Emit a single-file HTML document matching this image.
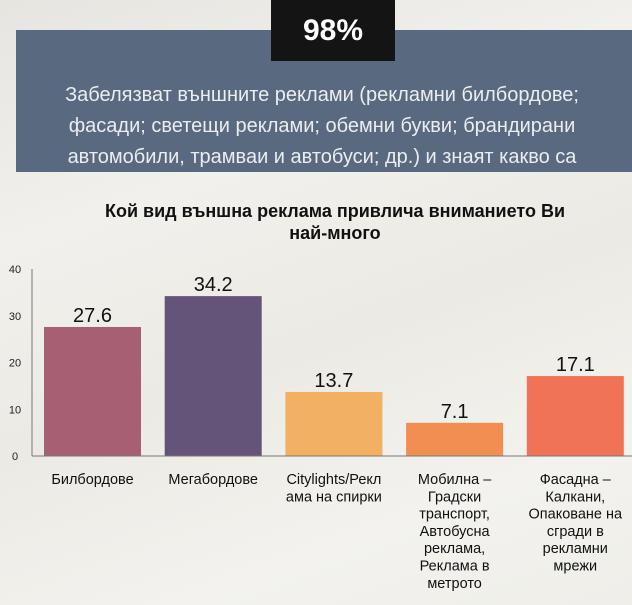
<!DOCTYPE html>
<html><head><meta charset="utf-8"><style>
body{margin:0;width:632px;height:605px;overflow:hidden;font-family:"Liberation Sans",sans-serif;position:relative;
background:linear-gradient(160deg,#e6e5e0 0%,#f1f0ec 30%,#eceae4 55%,#f3f2ee 80%,#efeee9 100%);}
.box{position:absolute;left:16px;top:30px;width:616px;height:142px;background:#596a80;}
.pct{position:absolute;left:271px;top:0;width:124px;height:61px;background:#141414;color:#fff;font-weight:bold;font-size:30px;text-align:center;line-height:62px;}
.desc{position:absolute;left:0px;top:80px;width:644px;text-align:center;color:#ecedf0;font-size:20px;line-height:31px;}
.title{position:absolute;left:40px;top:200px;width:590px;text-align:center;font-weight:bold;font-size:18px;line-height:22px;color:#111;}
svg{position:absolute;left:0;top:0}
</style></head><body>
<div class="box"></div>
<div class="pct">98%</div>
<div class="desc">Забелязват външните реклами (рекламни билбордове;<br>фасади; светещи реклами; обемни букви; брандирани<br>автомобили, трамваи и автобуси; др.) и знаят какво са</div>
<div class="title">Кой вид външна реклама привлича вниманието Ви<br>най-много</div>
<svg id="chart" width="632" height="605"></svg>
<script>
const categories=[["Билбордове"],["Мегабордове"],["Citylights/Рекл","ама на спирки"],["Мобилна –","Градски","транспорт,","Автобусна","реклама,","Реклама в","метрото"],["Фасадна –","Калкани,","Опаковане на","сгради в","рекламни","мрежи"]];
const values=[27.6,34.2,13.7,7.1,17.1];
const colors=["#a65f73","#655479","#f2b062","#f28e52","#f07357"];
const ticks=[0,10,20,30,40];
const svg=document.getElementById('chart');const NS='http://www.w3.org/2000/svg';
const y0=456,yTop=269,vmax=40;
function y(v){return y0-(y0-yTop)*v/vmax;}
function xb(i){return 44+i*120.7;}
const bw=97;
function mk(t,a,txt){const e=document.createElementNS(NS,t);for(const k in a)e.setAttribute(k,a[k]);if(txt!==undefined)e.textContent=txt;svg.appendChild(e);return e;}
ticks.forEach(t=>{const e=mk('text',{x:15,y:y(t)+4,'text-anchor':'middle','font-size':11,fill:'#222'},t);

});
values.forEach((v,i)=>{
const r=mk('rect',{x:xb(i),y:y(v),width:bw,height:y0-y(v),fill:colors[i]});


const l=mk('text',{x:xb(i)+bw/2,y:y(v)-5,'text-anchor':'middle','font-size':20,fill:'#111'},v.toFixed(1));


categories[i].forEach((s,j)=>{const c=mk('text',{x:xb(i)+bw/2,y:484+j*17.3,'text-anchor':'middle','font-size':14.5,fill:'#111'},s);

});
});
const ax=mk('line',{x1:32,y1:yTop,x2:32,y2:y0,stroke:'#777','stroke-width':1});


const bx=mk('line',{x1:32,y1:y0,x2:632,y2:y0,stroke:'#777','stroke-width':1});


</script>
</body></html>
